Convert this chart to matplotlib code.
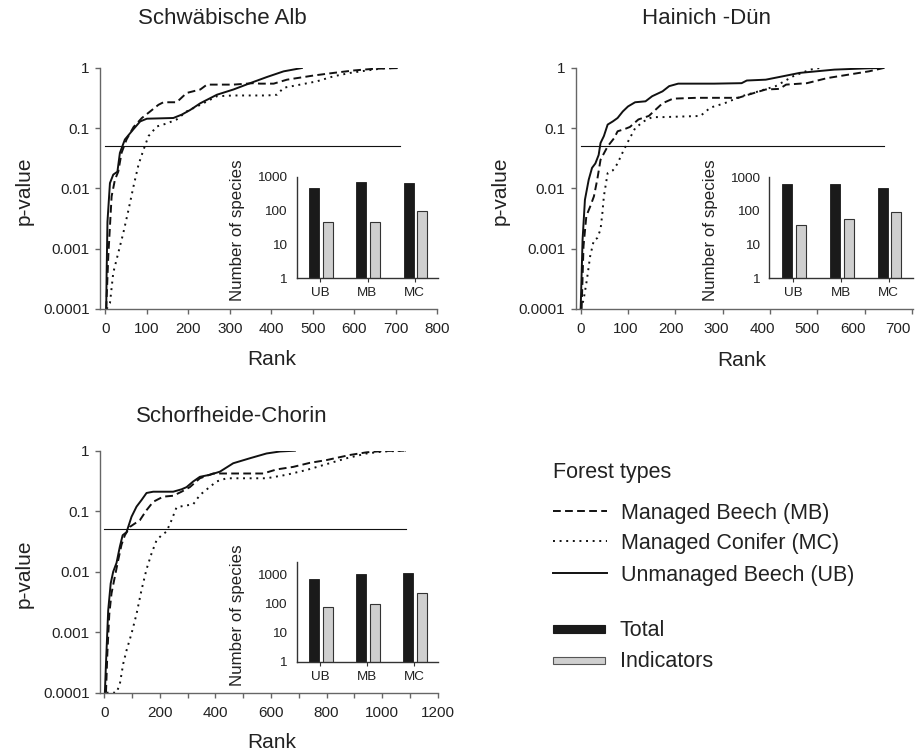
import matplotlib
matplotlib.use('Agg')
import matplotlib.pyplot as plt
import matplotlib.transforms as mtransforms
import numpy as np
from matplotlib.lines import Line2D
from matplotlib.patches import Rectangle
from matplotlib.ticker import MultipleLocator, FixedLocator, FixedFormatter

plt.rcParams['font.family'] = ['Liberation Sans', 'DejaVu Sans']

W, H = 916, 754

# ---- Schwaebische Alb: rank vs p-value ----
sa_ub_rank = [2, 3, 5, 11, 19, 29, 35, 47, 68, 84, 100, 164, 184, 204, 229, 269, 309, 349, 390, 430, 474]
sa_ub_p = [0.0001, 0.0004, 0.0028, 0.0123, 0.017, 0.019, 0.039, 0.065, 0.097, 0.13, 0.144,
           0.148, 0.168, 0.2, 0.26, 0.36, 0.44, 0.56, 0.71, 0.88, 1.0]
sa_mb_rank = [2, 7, 15, 23, 31, 39, 51, 68, 88, 108, 128, 140, 172, 196, 229, 245, 309, 357,
              373, 406, 438, 502, 551, 599, 647, 711]
sa_mb_p = [0.0001, 0.00075, 0.0074, 0.014, 0.019, 0.039, 0.065, 0.105, 0.148, 0.19, 0.245, 0.27,
           0.27, 0.385, 0.44, 0.53, 0.53, 0.56, 0.55, 0.55, 0.64, 0.75, 0.83, 0.91, 0.97, 1.0]
sa_mc_rank = [3, 11, 19, 31, 43, 56, 68, 80, 92, 104, 124, 148, 172, 196, 229, 269, 309, 390,
              414, 430, 470, 510, 551, 591, 631, 671, 711]
sa_mc_p = [0.0001, 0.000125, 0.0004, 0.00085, 0.0018, 0.0045, 0.011, 0.025, 0.044, 0.074, 0.107,
           0.12, 0.14, 0.19, 0.245, 0.34, 0.35, 0.35, 0.36, 0.47, 0.53, 0.6, 0.73, 0.83, 0.91, 0.99, 1.0]

# ---- Hainich-Duen ----
hd_ub_rank = [0, 4, 9, 17, 24, 31, 38, 42, 49, 57, 68, 78, 89, 100, 115, 137, 151, 173, 187, 206,
              282, 340, 351, 391, 420, 463, 536, 609, 640]
hd_ub_p = [0.0001, 0.0014, 0.0065, 0.014, 0.022, 0.026, 0.036, 0.057, 0.074, 0.115, 0.13, 0.148,
           0.19, 0.23, 0.27, 0.28, 0.34, 0.41, 0.5, 0.55, 0.55, 0.56, 0.62, 0.64, 0.71, 0.83, 0.94, 0.99, 1.0]
hd_mb_rank = [2, 6, 12, 20, 28, 35, 42, 57, 71, 78, 93, 104, 122, 144, 173, 195, 245, 333, 354,
              391, 420, 434, 478, 521, 572, 609, 640]
hd_mb_p = [0.0001, 0.0011, 0.0035, 0.005, 0.0074, 0.014, 0.03, 0.05, 0.069, 0.089, 0.097, 0.105,
           0.14, 0.16, 0.26, 0.31, 0.32, 0.32, 0.36, 0.44, 0.45, 0.53, 0.56, 0.68, 0.79, 0.88, 1.0]
hd_mc_rank = [0, 6, 13, 20, 28, 35, 42, 46, 49, 57, 68, 78, 86, 100, 115, 133, 151, 173, 253,
              274, 304, 340, 376, 412, 449, 485, 505]
hd_mc_p = [0.0001, 0.00014, 0.0003, 0.00075, 0.0014, 0.0015, 0.0021, 0.004, 0.0074, 0.018, 0.02,
           0.026, 0.036, 0.06, 0.1, 0.13, 0.153, 0.153, 0.16, 0.22, 0.26, 0.34, 0.41, 0.5, 0.73, 0.94, 1.0]

# ---- Schorfheide-Chorin ----
sc_ub_rank = [2, 6, 14, 23, 32, 44, 56, 66, 80, 98, 116, 134, 152, 176, 248, 278, 296, 320, 344,
              380, 416, 464, 524, 584, 632, 686]
sc_ub_p = [0.0001, 0.0003, 0.0023, 0.0064, 0.01, 0.014, 0.026, 0.04, 0.045, 0.081, 0.119, 0.153,
           0.2, 0.21, 0.21, 0.23, 0.25, 0.31, 0.37, 0.4, 0.45, 0.62, 0.75, 0.9, 0.97, 1.0]
sc_mb_rank = [6, 11, 18, 26, 38, 50, 62, 74, 92, 104, 128, 152, 176, 212, 248, 278, 308, 344, 392,
              464, 572, 620, 680, 740, 800, 884, 944, 1004, 1080]
sc_mb_p = [0.0001, 0.00045, 0.002, 0.0044, 0.0083, 0.0155, 0.028, 0.04, 0.055, 0.06, 0.071, 0.104,
           0.143, 0.174, 0.18, 0.21, 0.25, 0.35, 0.42, 0.42, 0.42, 0.49, 0.54, 0.63, 0.7, 0.85, 0.94, 0.99, 1.0]
sc_mc_rank = [8, 44, 56, 68, 80, 98, 116, 134, 152, 170, 188, 206, 224, 242, 260, 284, 320, 344,
              374, 404, 440, 584, 656, 728, 800, 872, 944, 1004, 1085]
sc_mc_p = [0.0001, 0.0001, 0.00014, 0.0003, 0.0005, 0.00095, 0.002, 0.005, 0.011, 0.02, 0.033, 0.04,
           0.046, 0.071, 0.116, 0.122, 0.13, 0.185, 0.24, 0.31, 0.35, 0.35, 0.4, 0.48, 0.6, 0.75, 0.9, 0.97, 1.0]

# ---- inset bars: number of species (UB, MB, MC) ----
forest_types = ['UB', 'MB', 'MC']
sa_total = [475, 690, 660]
sa_ind = [47, 45, 94]
hd_total = [610, 600, 475]
hd_ind = [37, 57, 92]
sc_total = [670, 990, 1060]
sc_ind = [73, 95, 220]

alpha_level = 0.05
p_ticks = [1e-4, 1e-3, 1e-2, 1e-1, 1]
p_tick_labels = ['0.0001', '0.001', '0.01', '0.1', '1']
n_ticks = [1, 10, 100, 1000]
n_tick_labels = ['1', '10', '100', '1000']

TXT = '#222222'
SPINE = '#666666'
LINE = '#111111'
styles = {
    'MB': dict(dashes=(4, 2.2)),
    'MC': dict(dashes=(1, 2.4)),
    'UB': dict(linestyle='-'),
}


def box(left, top, right, bottom):
    # pixel box -> figure fraction
    return [left / W, 1 - bottom / H, (right - left) / W, (bottom - top) / H]


def ftext(x, y, s, **kw):
    fig.text(x / W, 1 - y / H, s, color=TXT, **kw)


def curve_panel(rect, xlim, step, label_step, curves, label_drift=0.0):
    ax = fig.add_axes(rect)
    for key in ['MB', 'MC', 'UB']:
        r, p = curves[key]
        ax.plot(r, p, color=LINE, lw=1.4, **styles[key])
    xmax = max(max(c[0]) for c in curves.values())
    ax.plot([0, xmax], [alpha_level, alpha_level], color=LINE, lw=0.8)
    ax.set_yscale('log')
    ax.set_ylim(1e-4, 1)
    ax.set_xlim(*xlim)
    ax.yaxis.set_major_locator(FixedLocator(p_ticks))
    ax.yaxis.set_major_formatter(FixedFormatter(p_tick_labels))
    ax.yaxis.set_minor_locator(FixedLocator([]))
    ax.xaxis.set_major_locator(MultipleLocator(label_step))
    ax.xaxis.set_minor_locator(MultipleLocator(step))
    for s in ['top', 'right']:
        ax.spines[s].set_visible(False)
    for s in ['left', 'bottom']:
        ax.spines[s].set_color(SPINE)
        ax.spines[s].set_linewidth(1.0)
    ax.tick_params(which='both', direction='out', length=3.5, width=1, color=SPINE,
                   labelsize=11, labelcolor=TXT)
    ax.tick_params(axis='y', pad=4)
    ax.tick_params(axis='x', pad=6)
    ax.patch.set_alpha(0)
    if label_drift:
        # the printed labels of this panel sit slightly left of their tick marks
        fig.canvas.draw()
        for lab in ax.get_xticklabels():
            v = lab.get_position()[0]
            dx = -label_drift * v / 100.0 / 100.0
            lab.set_transform(lab.get_transform() +
                              mtransforms.ScaledTranslation(dx, 0, fig.dpi_scale_trans))
    return ax


def bar_inset(rect, ytop, total, ind):
    ax = fig.add_axes(rect)
    x = np.arange(len(forest_types))
    ax.set_yscale('log')
    ax.bar(x - 0.13, total, width=0.21, color='#1a1a1a', edgecolor='#1a1a1a', lw=0.6)
    ax.bar(x + 0.16, ind, width=0.21, color='#cfcfcf', edgecolor='#333333', lw=0.8)
    ax.set_ylim(1, ytop)
    ax.set_xlim(-0.5, len(forest_types) - 0.5)
    ax.set_xticks(x)
    ax.set_xticklabels(forest_types)
    ax.yaxis.set_major_locator(FixedLocator(n_ticks))
    ax.yaxis.set_major_formatter(FixedFormatter(n_tick_labels))
    ax.yaxis.set_minor_locator(FixedLocator([]))
    for s in ['top', 'right']:
        ax.spines[s].set_visible(False)
    for s in ['left', 'bottom']:
        ax.spines[s].set_color('#333333')
        ax.spines[s].set_linewidth(1.0)
    ax.tick_params(axis='y', length=0, pad=7, labelsize=9.7, labelcolor=TXT)
    ax.tick_params(axis='x', direction='out', length=3, color='#333333', pad=3.5,
                   labelsize=9.7, labelcolor=TXT)
    ax.patch.set_alpha(0)
    return ax


fig = plt.figure(figsize=(W / 100, H / 100), dpi=100)

# panel boxes in pixels: left, top, right, bottom
panels = [
    dict(title='Schwäbische Alb', main=(100, 68, 437, 309), xlim=(-13, 800), step=100, lstep=100,
         inset=(296.7, 176.7, 438.3, 278.3), ytop=1000, total=sa_total, ind=sa_ind, drift=0.0,
         curves={'UB': (sa_ub_rank, sa_ub_p), 'MB': (sa_mb_rank, sa_mb_p), 'MC': (sa_mc_rank, sa_mc_p)},
         title_xy=(222, 24), rank_xy=(272, 365)),
    dict(title='Hainich -Dün', main=(575.7, 68, 912.7, 309), xlim=(-10.5, 701.5), step=100, lstep=100,
         inset=(769.3, 177, 912.7, 278.3), ytop=1000, total=hd_total, ind=hd_ind, drift=2.0,
         curves={'UB': (hd_ub_rank, hd_ub_p), 'MB': (hd_mb_rank, hd_mb_p), 'MC': (hd_mc_rank, hd_mc_p)},
         title_xy=(707, 24), rank_xy=(742, 366)),
    dict(title='Schorfheide-Chorin', main=(100, 450.7, 437.7, 692.7), xlim=(-15.5, 1200), step=100, lstep=200,
         inset=(296.7, 561.7, 437.7, 661.7), ytop=2650, total=sc_total, ind=sc_ind, drift=0.0,
         curves={'UB': (sc_ub_rank, sc_ub_p), 'MB': (sc_mb_rank, sc_mb_p), 'MC': (sc_mc_rank, sc_mc_p)},
         title_xy=(232, 422), rank_xy=(272, 748)),
]

for pn in panels:
    l, t, r, b = pn['main']
    curve_panel(box(l, t, r, b), pn['xlim'], pn['step'], pn['lstep'], pn['curves'], pn['drift'])
    il, it, ir, ib = pn['inset']
    bar_inset(box(il, it, ir, ib), pn['ytop'], pn['total'], pn['ind'])
    ftext(pn['title_xy'][0], pn['title_xy'][1], pn['title'], fontsize=16, ha='center', va='baseline')
    ftext(pn['rank_xy'][0], pn['rank_xy'][1], 'Rank', fontsize=15, ha='center', va='baseline')
    ftext(l - 76, (t + b) / 2 + 2, 'p-value', fontsize=15, rotation=90, ha='center', va='center')
    ftext(il - 59, (it + ib) / 2 + 3, 'Number of species', fontsize=12.2, rotation=90,
          ha='center', va='center')

# ---- legend (drawn by hand to match the layout) ----
LEG_FS = 15.5
ftext(553, 478, 'Forest types', fontsize=LEG_FS, ha='left', va='baseline')
leg_rows = [('MB', 'Managed Beech (MB)', 511), ('MC', 'Managed Conifer (MC)', 541),
            ('UB', 'Unmanaged Beech (UB)', 573)]
for key, lab, y in leg_rows:
    fig.add_artist(Line2D([553 / W, 607 / W], [1 - y / H, 1 - y / H], transform=fig.transFigure,
                          color=LINE, lw=1.4, **styles[key]))
    ftext(621, y + 7.5, lab, fontsize=LEG_FS, ha='left', va='baseline')

for face, edge, lab, y0, y1 in [('#1a1a1a', '#1a1a1a', 'Total', 625, 633),
                                ('#cfcfcf', '#555555', 'Indicators', 657, 664)]:
    fig.add_artist(Rectangle((553 / W, 1 - y1 / H), 52 / W, (y1 - y0) / H, transform=fig.transFigure,
                             facecolor=face, edgecolor=edge, lw=0.8))
    ftext(620, y1 + 3, lab, fontsize=LEG_FS, ha='left', va='baseline')

fig.savefig('out.png', dpi=100)
